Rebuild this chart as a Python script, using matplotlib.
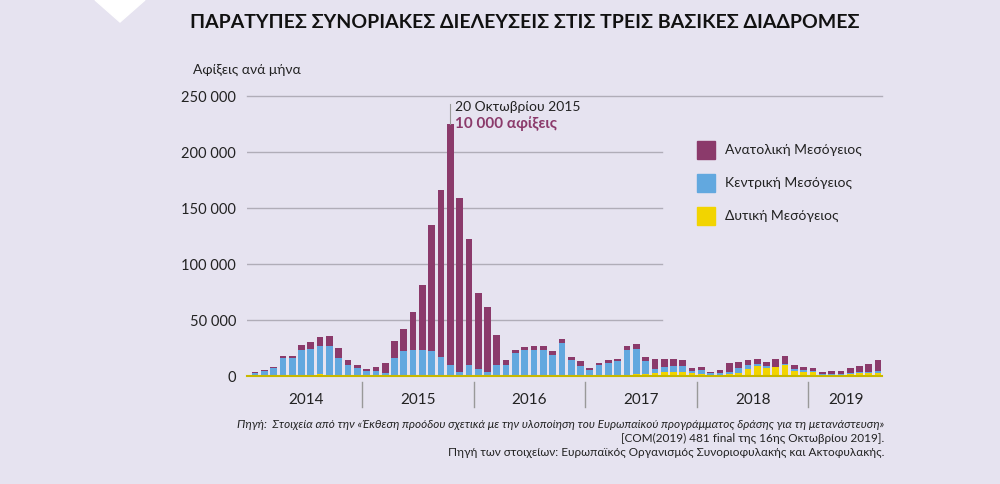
import matplotlib
matplotlib.use("Agg")
import matplotlib.pyplot as plt
import numpy as np
from matplotlib.patches import Polygon, Rectangle

plt.rcParams["font.family"] = "Lato"

years = ["2014", "2015", "2016", "2017", "2018", "2019"]
months_per_year = [12, 12, 12, 12, 12, 8]
total = [4000, 5600, 8300, 18300, 18300, 27500, 30000, 35000, 35500, 24600, 14200, 10000,
         6500, 8300, 11800, 31000, 42000, 57000, 81000, 135000, 166000, 225000, 159000, 122000,
         74000, 62000, 37000, 14000, 23000, 25500, 27000, 27000, 22000, 33000, 16700, 13300,
         6800, 11900, 14300, 15500, 26800, 28600, 16700, 14900, 14900, 14900, 14300, 6800,
         7700, 3900, 5400, 11300, 12200, 14300, 14900, 12800, 14900, 17900, 9800, 8300,
         6800, 3900, 4800, 4800, 6800, 8900, 10700, 14300]
central = [2000, 4000, 6500, 16000, 15400, 22600, 23500, 25000, 25800, 15200, 9300, 7200,
           4000, 4200, 2200, 15600, 21300, 22800, 22800, 22000, 16000, 9000, 3200, 8600,
           5500, 3200, 9200, 9000, 20300, 22900, 22900, 22000, 17500, 28200, 13600, 8700,
           4900, 9200, 10700, 12500, 22600, 22700, 11700, 3000, 3800, 5000, 5000, 2400,
           3600, 1200, 1200, 2100, 3800, 3900, 1800, 2100, 600, 900, 1200, 1500,
           1500, 600, 600, 900, 1200, 1500, 1500, 2400]
western = [400, 300, 500, 500, 500, 600, 700, 1500, 800, 500, 400, 300,
           300, 300, 300, 500, 600, 600, 700, 700, 800, 1000, 800, 800,
           600, 600, 500, 500, 500, 600, 700, 800, 900, 1000, 500, 500,
           500, 500, 500, 600, 600, 1800, 1800, 3000, 3900, 3900, 3900, 2400,
           1800, 1200, 1200, 1800, 3000, 6000, 8900, 6800, 7700, 9800, 4800, 3900,
           3300, 1200, 1000, 1200, 1800, 2400, 2400, 2400]
yticks = [0, 50000, 100000, 150000, 200000, 250000]
ytick_labels = ["0", "50 000", "100 000", "150 000", "200 000", "250 000"]
legend_labels = ["Ανατολική Μεσόγειος", "Κεντρική Μεσόγειος", "Δυτική Μεσόγειος"]

total = np.array(total); central = np.array(central); western = np.array(western)
eastern = total - central - western

BG = "#e6e3f0"
C_E, C_C, C_W = "#8b3a6b", "#62a8df", "#f2d400"

fig = plt.figure(figsize=(10, 4.84), dpi=100, facecolor=BG)
ax = fig.add_axes([0.247, 1 - 376/484, 0.635, 280/484])
ax.set_facecolor(BG)
n = len(total)
x = np.arange(n)
x0 = (247 - 255) / 9.3
x1 = (882 - 255) / 9.3
ax.set_xlim(x0, x1)
ax.set_ylim(0, 250000)
w = 0.72
ax.bar(x, western, w, color=C_W, zorder=3)
ax.bar(x, central, w, bottom=western, color=C_C, zorder=3)
ax.bar(x, eastern, w, bottom=western + central, color=C_E, zorder=3)

for t in yticks[1:-1]:
    ax.plot([x0, (662 - 255) / 9.3], [t, t], color="#b0adb8", lw=1, zorder=1)
ax.plot([x0, x1], [250000, 250000], color="#b0adb8", lw=1, zorder=1, clip_on=False)
ax.plot([x0, x1], [0, 0], color="#c8b800", lw=1.5, zorder=4, clip_on=False)

for s in ax.spines.values():
    s.set_visible(False)
ax.set_xticks([])
ax.set_yticks(yticks)
ax.set_yticklabels(ytick_labels, fontsize=10.5, color="#222222")
ax.tick_params(axis="y", length=0, pad=8)

start = 0
for i, (yr, m) in enumerate(zip(years, months_per_year)):
    c = start + (12 - 1) / 2 if m == 12 else start + (m - 1) / 2
    ax.text(c, -0.06, yr, transform=ax.get_xaxis_transform(), ha="center", va="top",
            fontsize=11, color="#222222")
    if i > 0:
        ax.plot([start - 0.5, start - 0.5], [-0.02, -0.11], transform=ax.get_xaxis_transform(),
                color="#999999", lw=1, clip_on=False)
    start += m

pk = int(np.argmax(total))
ax.plot([pk, pk], [total[pk], 243000], color="#999999", lw=0.8, zorder=4)
ax.text(pk + 0.5, 240000, "20 Οκτωβρίου 2015", fontsize=10, color="#222222", va="center")
ax.text(pk + 0.5, 225000, "10 000 αφίξεις", fontsize=11, color=C_E, fontweight="bold", va="center")

# legend
for i, (lab, col) in enumerate(zip(legend_labels, [C_E, C_C, C_W])):
    yp = 150 + i * 33
    fig.patches.append(Rectangle((697/1000, 1 - (yp + 9)/484), 18/1000, 18/484,
                                 transform=fig.transFigure, color=col))
    fig.text(725/1000, 1 - yp/484, lab, fontsize=10, va="center", color="#222222")

# title & labels
fig.patches.append(Polygon([[95/1000, 1], [145/1000, 1], [120/1000, 1 - 22/484]],
                           closed=True, transform=fig.transFigure, color="white"))
fig.text(190/1000, 1 - 22/484, "ΠΑΡΑΤΥΠΕΣ ΣΥΝΟΡΙΑΚΕΣ ΔΙΕΛΕΥΣΕΙΣ ΣΤΙΣ ΤΡΕΙΣ ΒΑΣΙΚΕΣ ΔΙΑΔΡΟΜΕΣ",
         fontsize=14, va="center", color="#111111", fontweight="bold")
fig.text(193/1000, 1 - 70/484, "Αφίξεις ανά μήνα", fontsize=10, va="center", color="#222222")

fs = 8.5
fig.text(884/1000, 1 - 424/484,
         "Πηγή:  Στοιχεία από την «Έκθεση προόδου σχετικά με την υλοποίηση του Ευρωπαϊκού προγράμματος δράσης για τη μετανάστευση»",
         fontsize=fs, ha="right", va="center", style="italic", color="#222222")
fig.text(884/1000, 1 - 438/484, "[COM(2019) 481 final της 16ης Οκτωβρίου 2019].",
         fontsize=fs, ha="right", va="center", color="#222222")
fig.text(884/1000, 1 - 452/484,
         "Πηγή των στοιχείων: Ευρωπαϊκός Οργανισμός Συνοριοφυλακής και Ακτοφυλακής.",
         fontsize=fs, ha="right", va="center", color="#222222")

fig.savefig("out.png", dpi=100, facecolor=BG)
